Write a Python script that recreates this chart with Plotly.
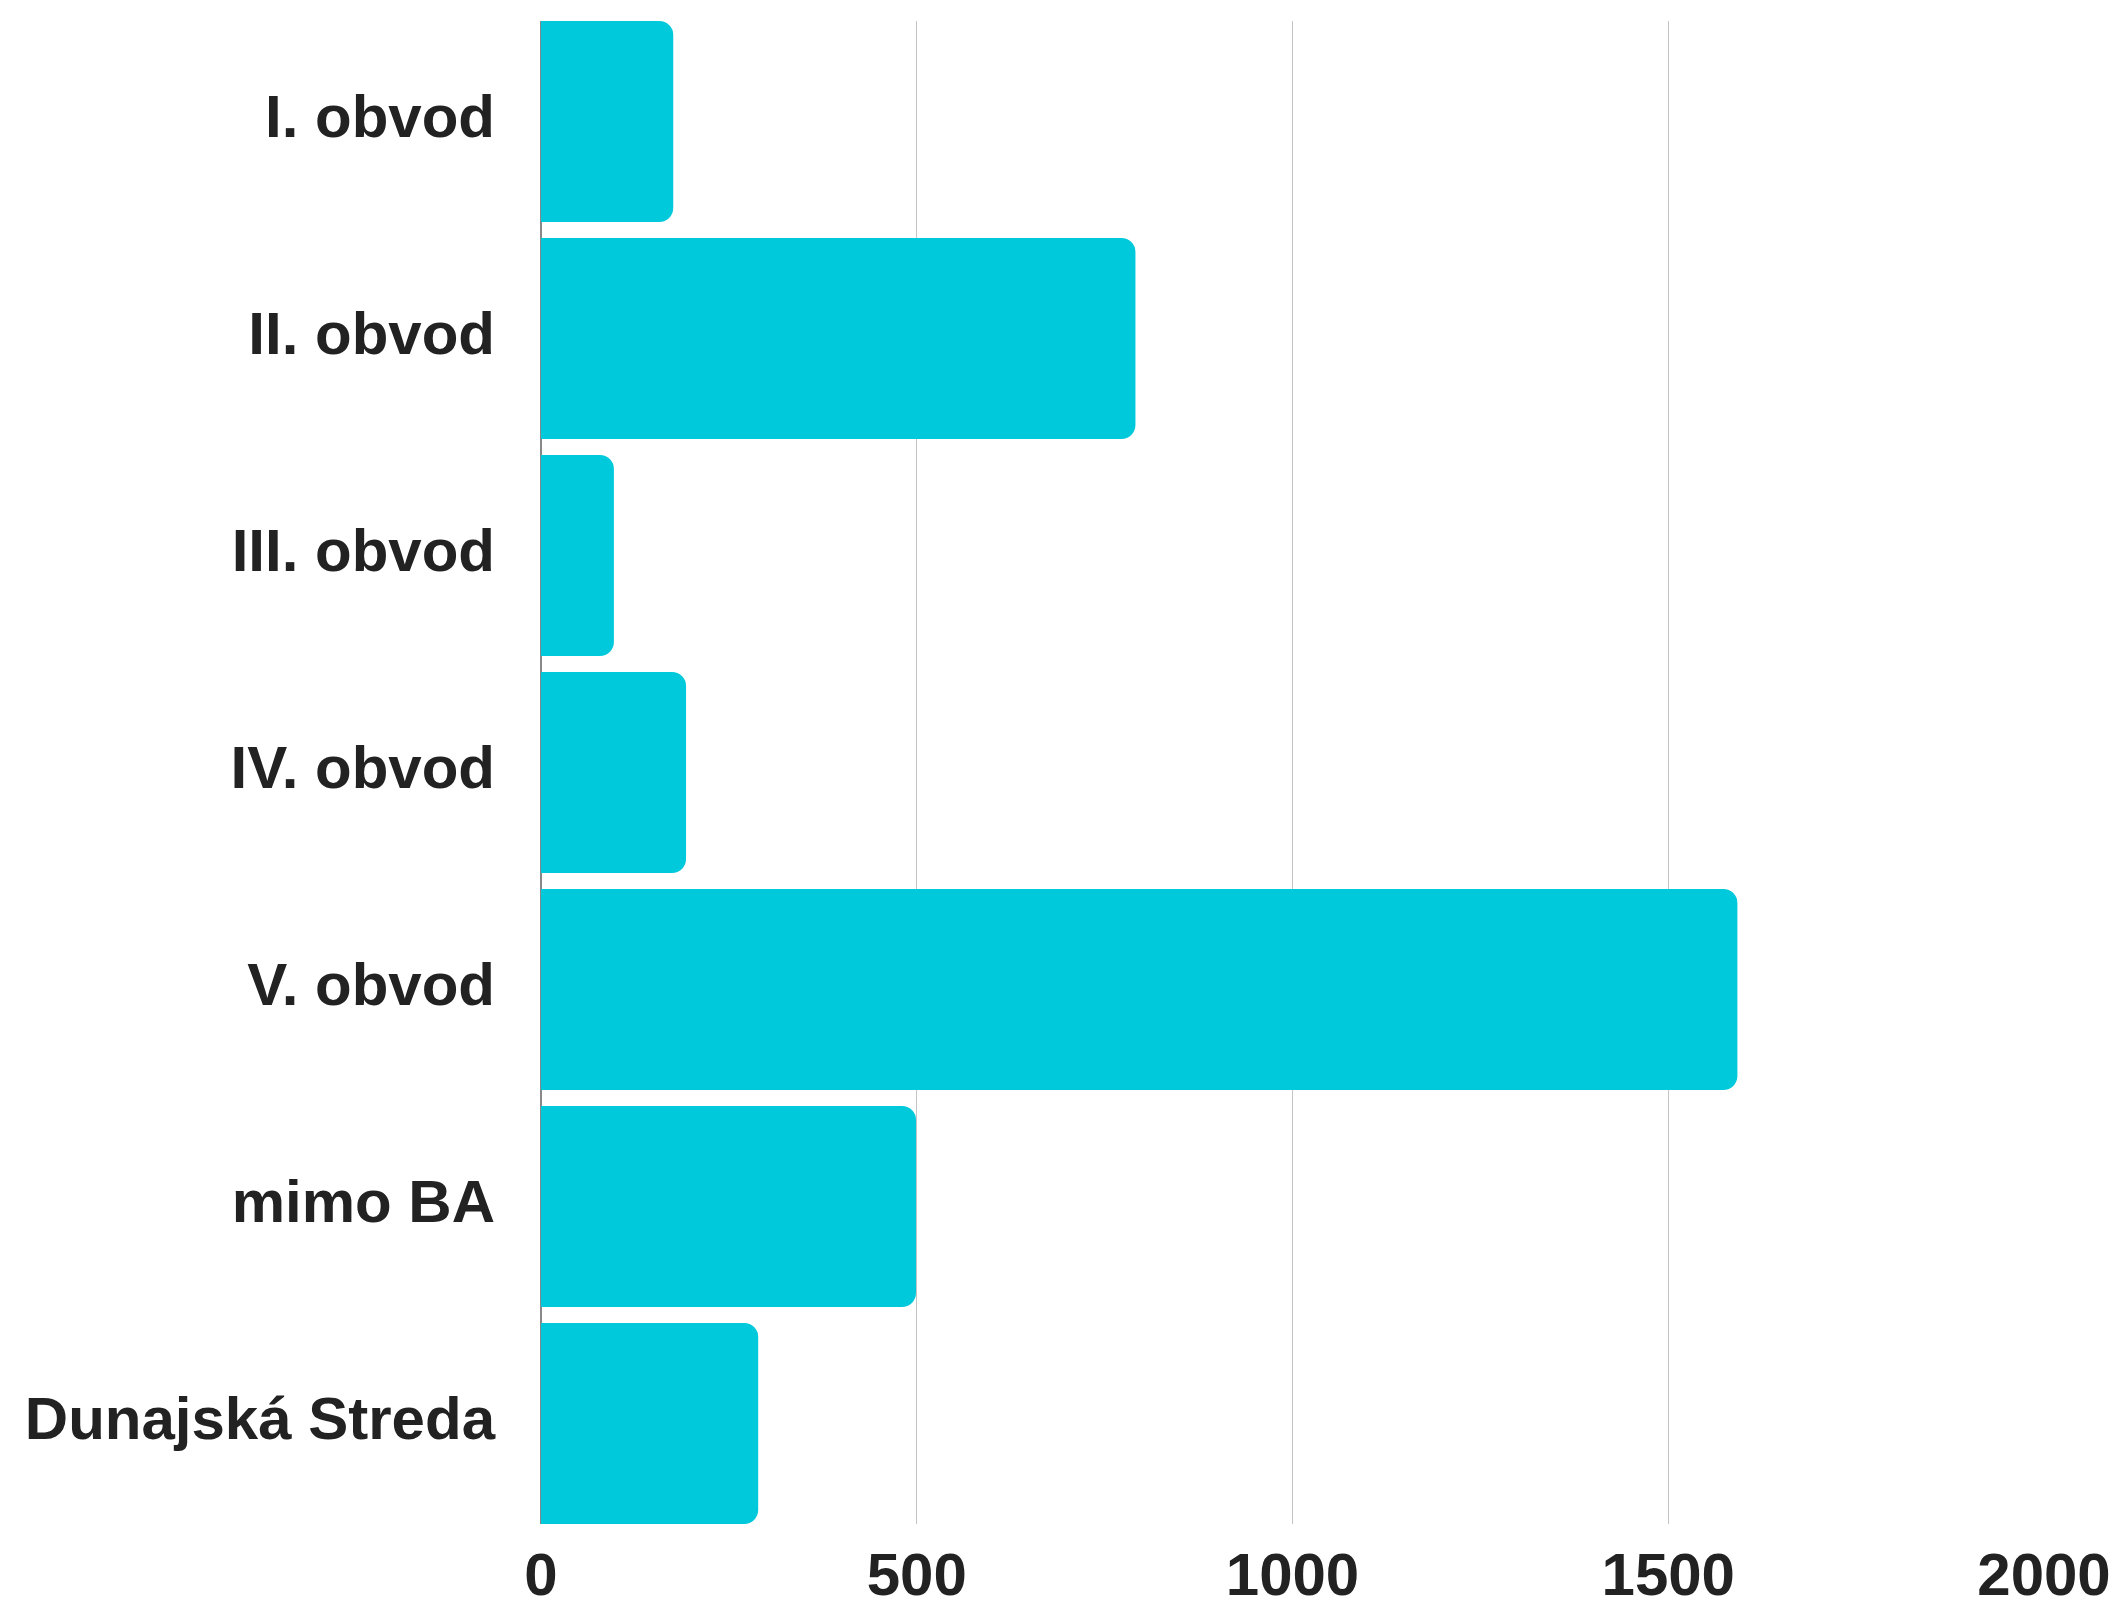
import plotly.graph_objects as go

categories = ["I. obvod", "II. obvod", "III. obvod", "IV. obvod", "V. obvod", "mimo BA", "Dunajská Streda"]
values = [176, 791, 97, 193, 1592, 499, 289]
x_ticks = [0, 500, 1000, 1500, 2000]

BAR_COLOR = "#00C9DB"
TEXT_COLOR = "#222222"
FONT = "Liberation Sans, Arial, sans-serif"
bargap = 0.0737

fig = go.Figure(
    go.Bar(
        y=categories,
        x=values,
        orientation="h",
        marker=dict(color=BAR_COLOR, line=dict(width=0), cornerradius=14),
        hoverinfo="skip",
    )
)

fig.update_layout(
    width=2120,
    height=1606,
    autosize=False,
    margin=dict(l=541, r=76, t=21, b=82, pad=0, autoexpand=False),
    paper_bgcolor="white",
    plot_bgcolor="white",
    bargap=bargap,
    showlegend=False,
    font=dict(family=FONT, size=60, color=TEXT_COLOR),
)

fig.update_xaxes(
    range=[0, 2000],
    tickvals=x_ticks,
    ticktext=[str(v) for v in x_ticks],
    showgrid=True,
    gridcolor="#c4c4c4",
    gridwidth=1,
    zeroline=True,
    zerolinecolor="#888888",
    zerolinewidth=1.5,
    showline=False,
    ticks="",
    automargin=False,
    tickfont=dict(family=FONT, size=60, color=TEXT_COLOR, weight="bold"),
    ticklabelstandoff=10,
)

fig.update_yaxes(
    type="category",
    categoryorder="array",
    categoryarray=categories,
    range=[len(categories) - 0.5 - bargap / 2, -0.5 + bargap / 2],
    showgrid=False,
    zeroline=False,
    showline=False,
    ticks="",
    automargin=False,
    tickfont=dict(family=FONT, size=60, color=TEXT_COLOR, weight="bold"),
    ticklabelstandoff=45,
    ticklabelshift=6,
)

fig.write_html(
    "out.html",
    config={"displayModeBar": False},
    post_script="document.body.style.margin='0';",
)
